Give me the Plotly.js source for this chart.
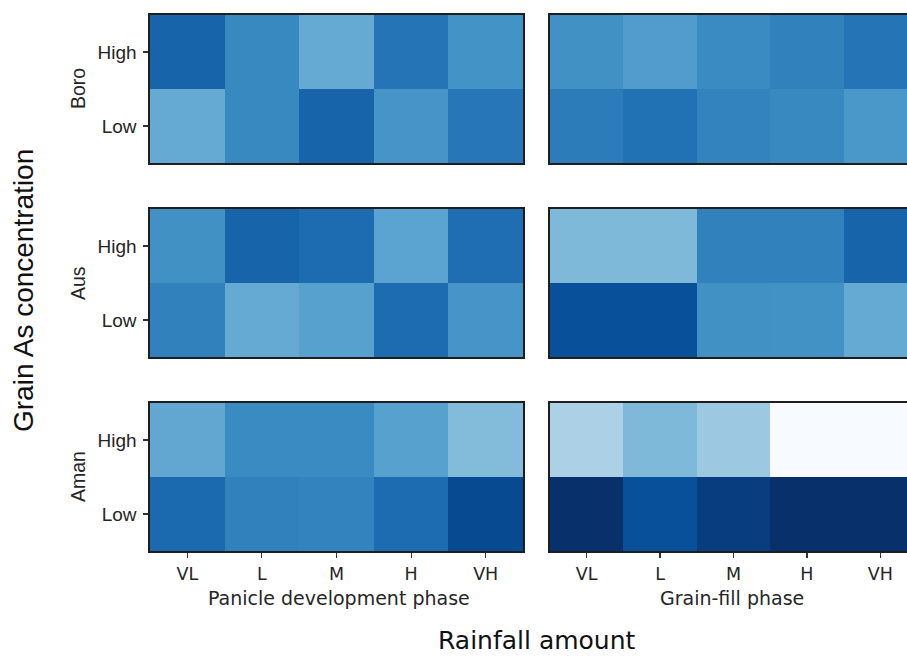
<!DOCTYPE html>
<html>
<head>
<meta charset="utf-8">
<script src="https://cdn.plot.ly/plotly-3.0.1.min.js"></script>
<style>
html,body{margin:0;padding:0;overflow:hidden;background:#fff;}
#chart{width:920px;height:657px;}
</style>
</head>
<body>
<div id="chart"></div>
<script>
// Categories
const rainfall = ['VL', 'L', 'M', 'H', 'VH'];
const asLevels = ['Low', 'High'];
const seasons = ['Boro', 'Aus', 'Aman'];
const phases = ['Panicle development phase', 'Grain-fill phase'];

// Normalised values (0..1)
const boroPanicleHigh = [0.80, 0.66, 0.52, 0.74, 0.62];
const boroPanicleLow  = [0.52, 0.66, 0.80, 0.61, 0.73];
const boroGrainHigh   = [0.63, 0.58, 0.65, 0.69, 0.74];
const boroGrainLow    = [0.71, 0.75, 0.68, 0.66, 0.60];

const ausPanicleHigh  = [0.63, 0.80, 0.77, 0.55, 0.76];
const ausPanicleLow   = [0.69, 0.52, 0.56, 0.77, 0.61];
const ausGrainHigh    = [0.45, 0.45, 0.69, 0.69, 0.80];
const ausGrainLow     = [0.88, 0.88, 0.63, 0.625, 0.52];

const amanPanicleHigh = [0.53, 0.65, 0.65, 0.56, 0.44];
const amanPanicleLow  = [0.78, 0.69, 0.68, 0.77, 0.90];
const amanGrainHigh   = [0.33, 0.45, 0.38, 0.00, 0.00];
const amanGrainLow    = [1.00, 0.88, 0.95, 1.00, 1.00];

const panels = [
  [[boroPanicleLow, boroPanicleHigh], [boroGrainLow, boroGrainHigh]],
  [[ausPanicleLow, ausPanicleHigh], [ausGrainLow, ausGrainHigh]],
  [[amanPanicleLow, amanPanicleHigh], [amanGrainLow, amanGrainHigh]]
];

const blues = [
  [0, '#f7fbff'], [0.125, '#deebf7'], [0.25, '#c6dbef'], [0.375, '#9ecae1'],
  [0.5, '#6baed6'], [0.625, '#4292c6'], [0.75, '#2171b5'], [0.875, '#08519c'], [1, '#08306b']
];

const W = 920, H = 657;
const xDom = [[150 / W, 523 / W], [550 / W, 917 / W]];
const yPix = [[15, 163], [209, 357], [403, 551]];
const yDom = yPix.map(p => [1 - p[1] / H, 1 - p[0] / H]);
const phaseCenters = [339 / W, 732 / W];

const data = [];
const layout = {
  width: W, height: H,
  margin: {l: 0, r: 0, t: 0, b: 0},
  paper_bgcolor: '#fff', plot_bgcolor: '#fff',
  showlegend: false,
  font: {family: 'DejaVu Sans', color: '#262626'},
  annotations: []
};

let idx = 1;
for (let r = 0; r < 3; r++) {
  for (let c = 0; c < 2; c++) {
    const xa = idx === 1 ? 'x' : 'x' + idx;
    const ya = idx === 1 ? 'y' : 'y' + idx;
    data.push({
      type: 'heatmap',
      x: rainfall, y: asLevels,
      z: panels[r][c],
      colorscale: blues, zmin: 0, zmax: 1,
      showscale: false,
      xaxis: xa, yaxis: ya
    });
    const bottom = r === 2;
    const left = c === 0;
    layout['xaxis' + (idx === 1 ? '' : idx)] = {
      domain: xDom[c], anchor: ya,
      type: 'category', range: [-0.5, 4.5],
      showline: true, mirror: true, linecolor: '#1e1e1e', linewidth: 1.6,
      ticks: bottom ? 'outside' : '', ticklen: 5, tickwidth: 1.2, tickcolor: '#333',
      ticklabelstandoff: 1,
      showticklabels: bottom,
      tickfont: {family: 'DejaVu Sans', size: 17.5, color: '#262626'},
      showgrid: false, zeroline: false, fixedrange: true
    };
    layout['yaxis' + (idx === 1 ? '' : idx)] = {
      domain: yDom[r], anchor: xa,
      type: 'category', range: [-0.5, 1.5],
      showline: true, mirror: true, linecolor: '#1e1e1e', linewidth: 1.6,
      ticks: left ? 'outside' : '', ticklen: 5, tickwidth: 1.2, tickcolor: '#333',
      ticklabelstandoff: 3,
      showticklabels: left,
      tickfont: {family: 'Liberation Sans', size: 19, color: '#262626'},
      showgrid: false, zeroline: false, fixedrange: true
    };
    idx++;
  }
  // season label
  layout.annotations.push({
    text: seasons[r], xref: 'paper', yref: 'paper',
    x: 78 / W, y: (yDom[r][0] + yDom[r][1]) / 2,
    xanchor: 'center', yanchor: 'middle', textangle: -90, showarrow: false,
    font: {family: 'Liberation Sans', size: 19.5, color: '#262626'}
  });
}

// phase titles
for (let c = 0; c < 2; c++) {
  layout.annotations.push({
    text: phases[c], xref: 'paper', yref: 'paper',
    x: phaseCenters[c], y: 1 - 598 / H,
    xanchor: 'center', yanchor: 'middle', showarrow: false,
    font: {family: 'DejaVu Sans', size: 19, color: '#262626'}
  });
}

layout.annotations.push({
  text: 'Grain As concentration', xref: 'paper', yref: 'paper',
  x: 24 / W, y: 1 - 291 / H, xanchor: 'center', yanchor: 'middle',
  textangle: -90, showarrow: false,
  font: {family: 'Liberation Sans', size: 28, color: '#111'}
});
layout.annotations.push({
  text: 'Rainfall amount', xref: 'paper', yref: 'paper',
  x: 537 / W, y: 0, xanchor: 'center', yanchor: 'bottom',
  showarrow: false,
  font: {family: 'DejaVu Sans', size: 25, color: '#111'}
});

Plotly.newPlot('chart', data, layout, {staticPlot: true, displayModeBar: false});
</script>
</body>
</html>
